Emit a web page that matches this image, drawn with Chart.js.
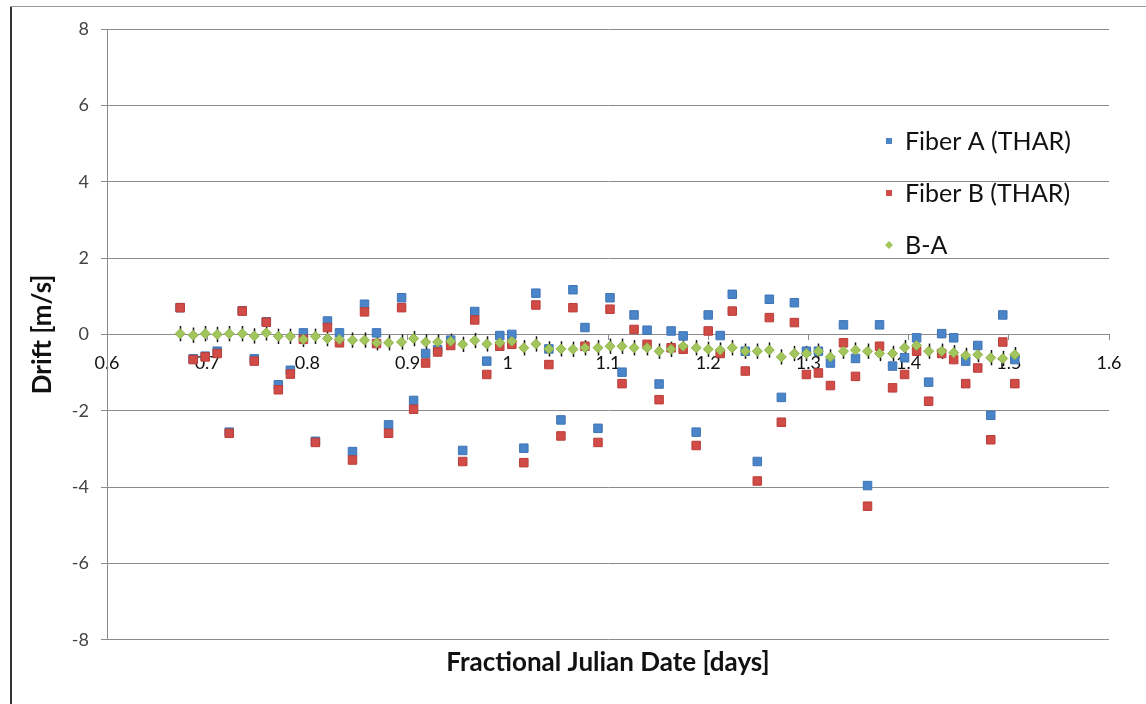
<!DOCTYPE html>
<html>
<head>
<meta charset="utf-8">
<script src="https://cdn.jsdelivr.net/npm/chart.js@4"></script>
<style>
    html, body { margin: 0; padding: 0; background: #fff; }
    #wrap { position: relative; width: 1146px; height: 704px; }
    #frameLeft { position: absolute; left: 10px; top: 6px; width: 2px; height: 698px; background: #333; }
    #frameTop { position: absolute; left: 10px; top: 6px; width: 1136px; height: 1px; background: #9a9a9a; }
</style>
</head>
<body>
<div id="wrap">
    <canvas id="driftChart" width="1146" height="704"></canvas>
    <div id="frameLeft"></div>
    <div id="frameTop"></div>
</div>
<script>
// fractional julian date of each exposure
const dates = [
    0.673, 0.686, 0.698, 0.710, 0.722, 0.735, 0.747, 0.759, 0.771, 0.783,
    0.796, 0.808, 0.820, 0.832, 0.845, 0.857, 0.869, 0.881, 0.894, 0.906,
    0.918, 0.930, 0.943, 0.955, 0.967, 0.979, 0.992, 1.004, 1.016, 1.028,
    1.041, 1.053, 1.065, 1.077, 1.090, 1.102, 1.114, 1.126, 1.139, 1.151,
    1.163, 1.175, 1.188, 1.200, 1.212, 1.224, 1.237, 1.249, 1.261, 1.273,
    1.286, 1.298, 1.310, 1.322, 1.335, 1.347, 1.359, 1.371, 1.384, 1.396,
    1.408, 1.420, 1.433, 1.445, 1.457, 1.469, 1.482, 1.494, 1.506
];

// drift in m/s
const fiberA = [
    0.70, -0.64, -0.57, -0.44, -2.56, 0.62, -0.64, 0.33, -1.32, -0.94,
    0.04, -2.80, 0.35, 0.04, -3.07, 0.79, 0.04, -2.37, 0.96, -1.73,
    -0.50, -0.40, -0.15, -3.04, 0.60, -0.70, -0.03, 0.00, -2.98, 1.08,
    -0.38, -2.24, 1.17, 0.18, -2.46, 0.96, -0.99, 0.51, 0.11, -1.30,
    0.09, -0.04, -2.56, 0.51, -0.03, 1.05, -0.44, -3.33, 0.92, -1.65,
    0.83, -0.44, -0.44, -0.75, 0.25, -0.63, -3.96, 0.25, -0.83, -0.61,
    -0.09, -1.25, 0.02, -0.09, -0.70, -0.29, -2.12, 0.51, -0.66
];

const fiberB = [
    0.70, -0.66, -0.59, -0.50, -2.59, 0.61, -0.70, 0.32, -1.45, -1.04,
    -0.13, -2.83, 0.18, -0.22, -3.29, 0.59, -0.24, -2.59, 0.70, -1.96,
    -0.75, -0.46, -0.29, -3.33, 0.38, -1.05, -0.31, -0.26, -3.36, 0.77,
    -0.79, -2.66, 0.70, -0.31, -2.83, 0.66, -1.29, 0.13, -0.26, -1.71,
    -0.35, -0.39, -2.91, 0.09, -0.50, 0.61, -0.96, -3.84, 0.44, -2.30,
    0.31, -1.05, -1.01, -1.34, -0.22, -1.10, -4.50, -0.31, -1.40, -1.05,
    -0.44, -1.75, -0.50, -0.66, -1.29, -0.88, -2.76, -0.20, -1.29
];

const diffBA = [
    0.02, -0.02, 0.02, 0.00, 0.02, 0.02, -0.04, 0.04, -0.05, -0.05,
    -0.13, -0.05, -0.11, -0.13, -0.15, -0.15, -0.22, -0.22, -0.20, -0.11,
    -0.20, -0.20, -0.18, -0.26, -0.16, -0.25, -0.22, -0.18, -0.35, -0.25,
    -0.38, -0.38, -0.39, -0.35, -0.35, -0.31, -0.31, -0.35, -0.35, -0.44,
    -0.39, -0.31, -0.35, -0.39, -0.41, -0.35, -0.44, -0.44, -0.41, -0.59,
    -0.50, -0.50, -0.44, -0.59, -0.44, -0.41, -0.44, -0.50, -0.50, -0.35,
    -0.29, -0.44, -0.44, -0.48, -0.55, -0.53, -0.61, -0.63, -0.53
];
const diffError = 0.2;

const seriesLabels = ['Fiber A (THAR)', 'Fiber B (THAR)', 'B-A'];

const FONT = 'Lato, "Open Sans", sans-serif';
const GRID = '#8c8c8c';

function toPoints(values) {
    return values.map((v, i) => ({ x: dates[i], y: v }));
}

// small black error bars through the B-A points
const errorBars = {
    id: 'errorBars',
    beforeDatasetsDraw(chart) {
        const { ctx } = chart;
        const xs = chart.scales.x, ys = chart.scales.y;
        ctx.save();
        ctx.strokeStyle = '#111';
        ctx.lineWidth = 1.5;
        diffBA.forEach((v, i) => {
            const px = Math.round(xs.getPixelForValue(dates[i])) + 0.5;
            ctx.beginPath();
            ctx.moveTo(px, ys.getPixelForValue(v + diffError));
            ctx.lineTo(px, ys.getPixelForValue(v - diffError));
            ctx.stroke();
        });
        ctx.restore();
    }
};

// legend sits inside the plot, top right
const insideLegend = {
    id: 'insideLegend',
    afterDraw(chart) {
        const { ctx, chartArea } = chart;
        const x0 = chartArea.right - 220;
        let y0 = chartArea.top + 112;
        ctx.save();
        chart.data.datasets.forEach(ds => {
            ctx.fillStyle = ds.backgroundColor;
            if (ds.pointStyle === 'rectRot') {
                ctx.beginPath();
                ctx.moveTo(x0, y0 - 4);
                ctx.lineTo(x0 + 4, y0);
                ctx.lineTo(x0, y0 + 4);
                ctx.lineTo(x0 - 4, y0);
                ctx.closePath();
                ctx.fill();
            } else {
                ctx.fillRect(x0 - 3, y0 - 3, 6, 6);
            }
            ctx.fillStyle = '#111';
            ctx.font = '25px ' + FONT;
            ctx.textBaseline = 'middle';
            ctx.fillText(ds.label, x0 + 16, y0 + 1);
            y0 += 52;
        });
        ctx.restore();
    }
};

const ctx = document.getElementById('driftChart').getContext('2d');
new Chart(ctx, {
    type: 'scatter',
    data: {
        datasets: [{
            label: seriesLabels[0],
            data: toPoints(fiberA),
            pointStyle: 'rect',
            pointRadius: 6,
            backgroundColor: '#4a84c9',
            borderColor: '#3f74b5',
            borderWidth: 1,
            order: 3
        }, {
            label: seriesLabels[1],
            data: toPoints(fiberB),
            pointStyle: 'rect',
            pointRadius: 6,
            backgroundColor: '#d24c47',
            borderColor: '#b93d39',
            borderWidth: 1,
            order: 2
        }, {
            label: seriesLabels[2],
            data: toPoints(diffBA),
            pointStyle: 'rectRot',
            pointRadius: 5,
            backgroundColor: '#a2c55c',
            borderColor: '#8fb24c',
            borderWidth: 1,
            order: 1
        }]
    },
    options: {
        responsive: false,
        animation: false,
        layout: { padding: { left: 12, right: 37, top: 29, bottom: 20 } },
        plugins: {
            legend: { display: false },
            tooltip: { enabled: false },
            title: {
                display: true,
                position: 'bottom',
                fullSize: false,
                text: 'Fractional Julian Date [days]',
                color: '#111',
                font: { family: FONT, size: 26, weight: 'bold' },
                padding: { top: 7, bottom: 6 }
            }
        },
        scales: {
            x: {
                type: 'linear',
                position: { y: 0 },
                min: 0.6,
                max: 1.6,
                border: { color: GRID, width: 1 },
                grid: { drawOnChartArea: false, drawTicks: true, tickLength: 5, color: GRID },
                ticks: {
                    stepSize: 0.1,
                    color: '#111',
                    padding: 13,
                    font: { family: FONT, size: 18 },
                    callback: v => String(Math.round(v * 10) / 10)
                }
            },
            y: {
                min: -8,
                max: 8,
                afterFit: s => { s.width = 95; },
                border: { color: GRID, width: 1 },
                grid: { color: GRID, tickLength: 6 },
                ticks: {
                    stepSize: 2,
                    color: '#444',
                    padding: 12,
                    font: { family: FONT, size: 18 }
                },
                title: {
                    display: true,
                    text: 'Drift [m/s]',
                    color: '#111',
                    font: { family: FONT, size: 26, weight: 'bold' },
                    padding: { top: 15, bottom: 0 }
                }
            }
        }
    },
    plugins: [errorBars, insideLegend]
});
</script>
</body>
</html>
